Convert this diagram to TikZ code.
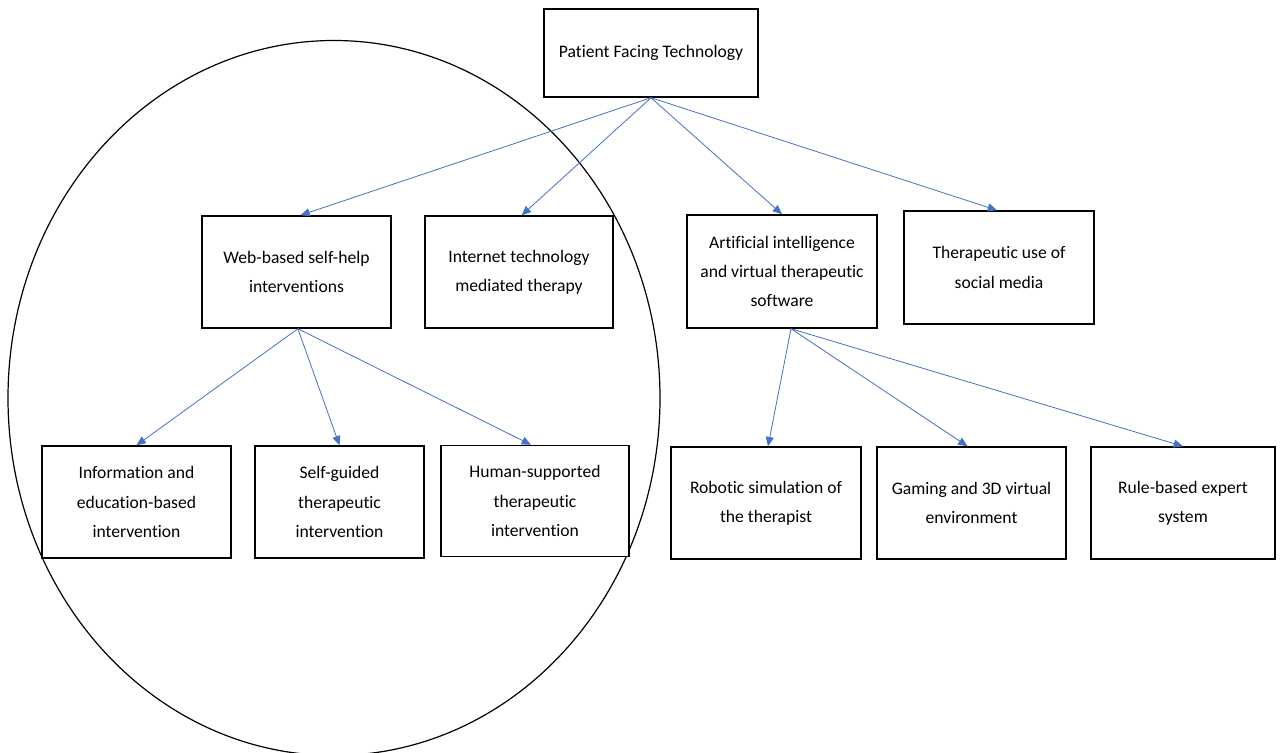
\documentclass[tikz,border=0pt]{standalone}
\usepackage{fontspec}
\setmainfont{Carlito}[Ligatures=NoCommon]
\usetikzlibrary{arrows.meta,calc}
\definecolor{linkblue}{RGB}{68,114,196}
\tikzset{
  box/.style={draw=black, line width=1.1pt, fill=white, align=center,
    inner sep=0pt, font=\fontsize{13.2pt}{22pt}\selectfont},
  link/.style={draw=linkblue, line width=0.6pt,
    -{Triangle[length=7pt,width=6pt]}},
}
\begin{document}
\begin{tikzpicture}[x=0.75pt, y=-0.75pt]
  \useasboundingbox (0,0) rectangle (1282,753);
  \fill[white] (0,0) rectangle (1282,753);

  % grouping ellipse around the web-based branch
  \begin{scope}
    \clip (0,0) rectangle (1282,753);
    \draw[line width=0.9pt] (334,398) ellipse [x radius=326, y radius=357.5];
  \end{scope}

  % top level
  \node[box, minimum width=214*0.75pt, minimum height=88*0.75pt] (ptf) at (651,53)
    {Patient Facing Technology};

  % second level
  \node[box, minimum width=189*0.75pt, minimum height=112*0.75pt] (web) at (296.5,272)
    {Web-based self-help\\interventions};
  \node[box, minimum width=188*0.75pt, minimum height=112*0.75pt] (itm) at (519,272)
    {Internet technology\\mediated therapy};
  \node[box, minimum width=190*0.75pt, minimum height=113*0.75pt] (ai) at (782,271.5)
    {Artificial intelligence\\and virtual therapeutic\\software};
  \node[box, minimum width=190*0.75pt, minimum height=113*0.75pt] (soc) at (999,267.5)
    {Therapeutic use of\\social media};

  % third level, web-based branch
  \node[box, minimum width=189*0.75pt, minimum height=112*0.75pt] (info) at (136.5,502)
    {Information and\\education-based\\intervention};
  \node[box, minimum width=169*0.75pt, minimum height=112*0.75pt] (self) at (339.5,502)
    {Self-guided\\therapeutic\\intervention};
  \node[box, minimum width=188*0.75pt, minimum height=111*0.75pt] (human) at (535,501)
    {Human-supported\\therapeutic\\intervention};

  % third level, AI branch
  \node[box, minimum width=190*0.75pt, minimum height=112*0.75pt] (robot) at (766,503)
    {Robotic simulation of\\the therapist};
  \node[box, minimum width=189*0.75pt, minimum height=112*0.75pt] (game) at (971.5,503)
    {Gaming and 3D virtual\\environment};
  \node[box, minimum width=184*0.75pt, minimum height=112*0.75pt] (rule) at (1183,503)
    {Rule-based expert\\system};

  % connectors
  \draw[link] (ptf.south) -- ([xshift=3pt]web.north);
  \draw[link] (ptf.south) -- ([xshift=2pt]itm.north);
  \draw[link] (ptf.south) -- (ai.north);
  \draw[link] (ptf.south) -- ([xshift=-1.5pt]soc.north);

  \draw[link] ([xshift=1pt]web.south) -- (info.north);
  \draw[link] ([xshift=1pt]web.south) -- (self.north);
  \draw[link] ([xshift=1pt]web.south) -- ([xshift=-3pt]human.north);

  \draw[link] ([xshift=6.75pt]ai.south) -- ([xshift=1.5pt]robot.north);
  \draw[link] ([xshift=6.75pt]ai.south) -- ([xshift=-3pt]game.north);
  \draw[link] ([xshift=6.75pt]ai.south) -- (rule.north);
\end{tikzpicture}
\end{document}
